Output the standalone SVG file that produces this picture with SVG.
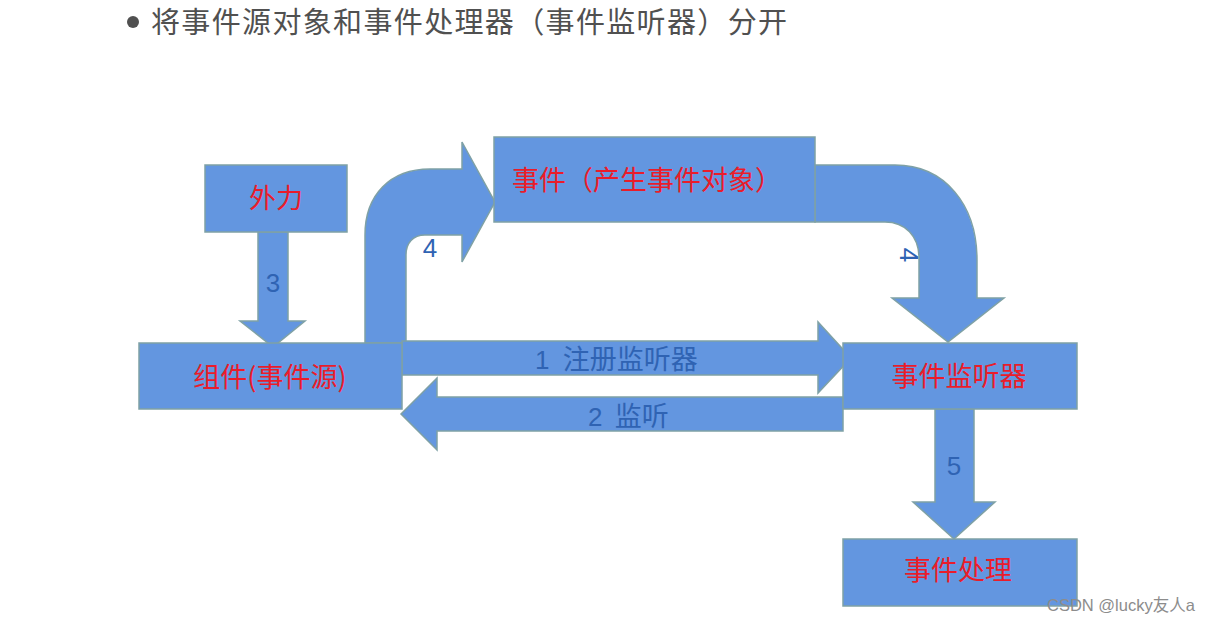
<svg xmlns="http://www.w3.org/2000/svg" width="1211" height="626" viewBox="0 0 1211 626">
  <style>
    .shape { fill: #6396e0; stroke: #7fa1a5; stroke-width: 1.5; }
    .red { fill: #ea1c2a; font-family: "Noto Sans CJK SC", "Liberation Sans", sans-serif; font-size: 27px; }
    .blue { fill: #2f63b3; font-family: "Liberation Sans", "Noto Sans CJK SC", sans-serif; font-size: 26px; }
    .title { fill: #505050; font-family: "Noto Sans CJK SC", sans-serif; font-size: 29px; }
    .mark { fill: #8c8c8c; font-family: "Liberation Sans", "Noto Sans CJK SC", sans-serif; font-size: 16.5px; }
  </style>
  <rect width="1211" height="626" fill="#ffffff"/>

  <g id="title">
    <circle cx="133" cy="22" r="6" fill="#505050"/>
    <text class="title" x="151" y="33" textLength="636" lengthAdjust="spacing">将事件源对象和事件处理器（事件监听器）分开</text>
  </g>

  <g id="connectors">
    <!-- 3: 外力 -> 组件 -->
    <path class="shape" d="M 258 232 L 288 232 L 288 321 L 305 321 L 273 347 L 240 321 L 258 321 Z"/>
    <!-- 4: 组件 -> 事件 (bent up) -->
    <path class="shape" d="M 365 343 L 365 235 C 365 195 390 169 430 169 L 462 169 L 462 142 L 495 202 L 462 262 L 462 235 L 425 235 C 413 235 406 243 406 255 L 406 343 Z"/>
    <!-- 4: 事件 -> 事件监听器 (curved down) -->
    <path class="shape" d="M 815 165 L 895 165 C 945 165 977 205 977 260 L 977 298 L 1004 298 L 948 342 L 892 298 L 919 298 L 919 258 C 919 236 905 222 885 222 L 815 222 Z"/>
    <!-- 1: 注册监听器 -->
    <path class="shape" d="M 402 341 L 818 341 L 818 322 L 851 358 L 818 393 L 818 375 L 402 375 Z"/>
    <!-- 2: 监听 -->
    <path class="shape" d="M 843 397 L 437 397 L 437 378 L 401 414 L 437 450 L 437 431 L 843 431 Z"/>
    <!-- 5: 事件监听器 -> 事件处理 -->
    <path class="shape" d="M 935 409 L 974 409 L 974 502 L 995 502 L 954 539 L 913 502 L 935 502 Z"/>

    <text class="blue" x="273" y="292" text-anchor="middle">3</text>
    <text class="blue" x="430" y="257" text-anchor="middle">4</text>
    <text class="blue" x="909" y="255" text-anchor="middle" dominant-baseline="central" transform="rotate(90 909 255)">4</text>
    <text class="blue" x="535" y="369">1 <tspan dx="6" font-size="27">注册监听器</tspan></text>
    <text class="blue" x="588" y="426">2 <tspan dx="5" font-size="27">监听</tspan></text>
    <text class="blue" x="954" y="475" text-anchor="middle" font-size="28">5</text>
  </g>

  <g id="node-waili">
    <rect class="shape" x="205" y="165" width="142" height="67"/>
    <text class="red" x="276" y="208" text-anchor="middle">外力</text>
  </g>

  <g id="node-zujian">
    <rect class="shape" x="139" y="343" width="263" height="66"/>
    <text class="red" x="270" y="387" text-anchor="middle" font-family="Liberation Sans, Noto Sans CJK SC, sans-serif">组件(事件源)</text>
  </g>

  <g id="node-shijian">
    <rect class="shape" x="494" y="137" width="321" height="85"/>
    <text class="red" x="512" y="190">事件（产生事件对象）</text>
  </g>

  <g id="node-listener">
    <rect class="shape" x="843" y="343" width="234" height="66"/>
    <text class="red" x="959" y="386" text-anchor="middle">事件监听器</text>
  </g>

  <g id="node-handle">
    <rect class="shape" x="843" y="539" width="234" height="67"/>
    <text class="red" x="958" y="580" text-anchor="middle">事件处理</text>
  </g>

  <g id="watermark">
    <text class="mark" x="1047" y="611">CSDN @lucky友人a</text>
  </g>
</svg>
